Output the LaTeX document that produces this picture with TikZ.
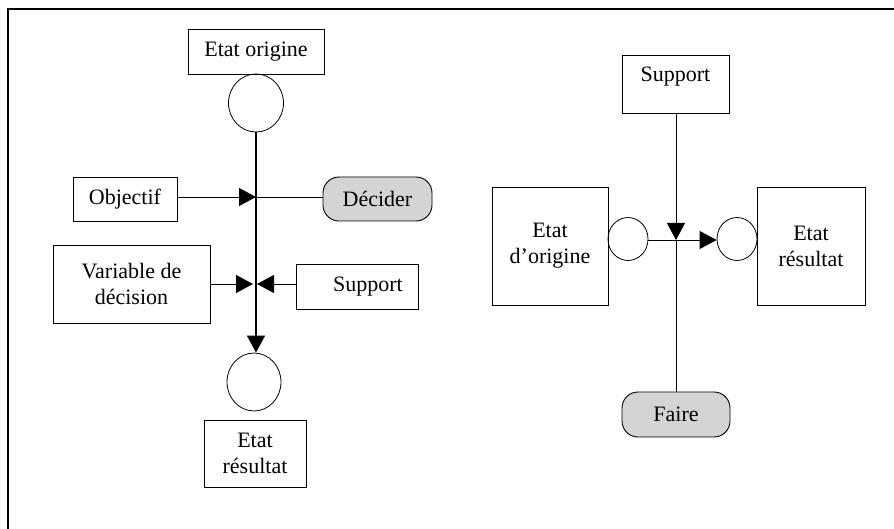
\documentclass[tikz,border=0pt]{standalone}
\usepackage{fontspec}
\setmainfont{Liberation Serif}
\usetikzlibrary{arrows.meta,shapes.geometric}
\begin{document}
\begin{tikzpicture}[x=1pt,y=-1pt,
  every node/.style={font=\fontsize{22}{26}\selectfont, inner sep=0pt},
  box/.style={draw, line width=0.9pt, align=center},
  act/.style={draw, line width=0.9pt, rounded corners=16pt, fill=black!17},
  place/.style={draw, line width=0.8pt, ellipse, inner sep=0pt},
  flow/.style={line width=1.4pt},
  thin flow/.style={line width=0.8pt},
  tip/.style={-{Triangle[length=17pt,width=18pt]}}
]
\useasboundingbox (0,0) rectangle (894,529);
% open frame
\draw[line width=1.6pt] (894,9) -- (8,9) -- (8,529);

% ---------- left: decision ----------
\node[box, minimum width=136pt, minimum height=45pt] (eo) at (256,51.5) {Etat origine};
\node[place, minimum width=55pt, minimum height=58pt] (c1) at (256,103) {};
\node[box, minimum width=104pt, minimum height=44pt] (obj) at (125,199) {Objectif};
\node[act, minimum width=109pt, minimum height=44pt] (dec) at (377.5,199) {Décider};
\node[box, minimum width=157pt, minimum height=78pt] (var) at (131.5,284) {Variable de\\décision};
\node[box, minimum width=122pt, minimum height=45pt] (sup) at (357,286.5) {\hspace*{22pt}Support};
\node[place, minimum width=54pt, minimum height=58pt] (c2) at (254,382) {};
\node[box, minimum width=102pt, minimum height=67pt] (er) at (255,453.5) {Etat\\résultat};

\coordinate (j1) at (256,197);
\coordinate (j2) at (256,284);
\draw[flow] (c1.south) -- (j1) -- (j2);
\draw[flow,tip] (j2) -- (c2.north -| j2);
\draw[thin flow,tip] (obj.east |- j1) -- (j1);
\draw[thin flow] (dec.west |- j1) -- (j1);
\draw[thin flow,tip] (var.east |- j2) -- ([xshift=-3pt]j2);
\draw[thin flow,tip] (sup.west |- j2) -- ([xshift=1pt]j2);

% ---------- right: action ----------
\node[box, minimum width=107pt, minimum height=58pt, label={[yshift=7pt]center:Support}] (sup2) at (675.5,84) {};
\node[box, minimum width=116pt, minimum height=118pt] (eo2) at (550,246) {Etat\\d’origine};
\node[box, minimum width=108pt, minimum height=118pt] (er2) at (811,246) {Etat\\résultat};
\node[place, minimum width=40pt, minimum height=43pt] (c3) at (628,239) {};
\node[place, minimum width=40pt, minimum height=43pt] (c4) at (737,239) {};
\node[act, minimum width=108pt, minimum height=45pt] (fai) at (676,414.5) {Faire};

\coordinate (j3) at (676,240);
\draw[thin flow,tip] (sup2.south -| j3) -- (j3);
\draw[thin flow] (j3) -- (fai.north -| j3);
\draw[thin flow,tip] (c3.east |- j3) -- (c4.west |- j3);
\end{tikzpicture}
\end{document}
